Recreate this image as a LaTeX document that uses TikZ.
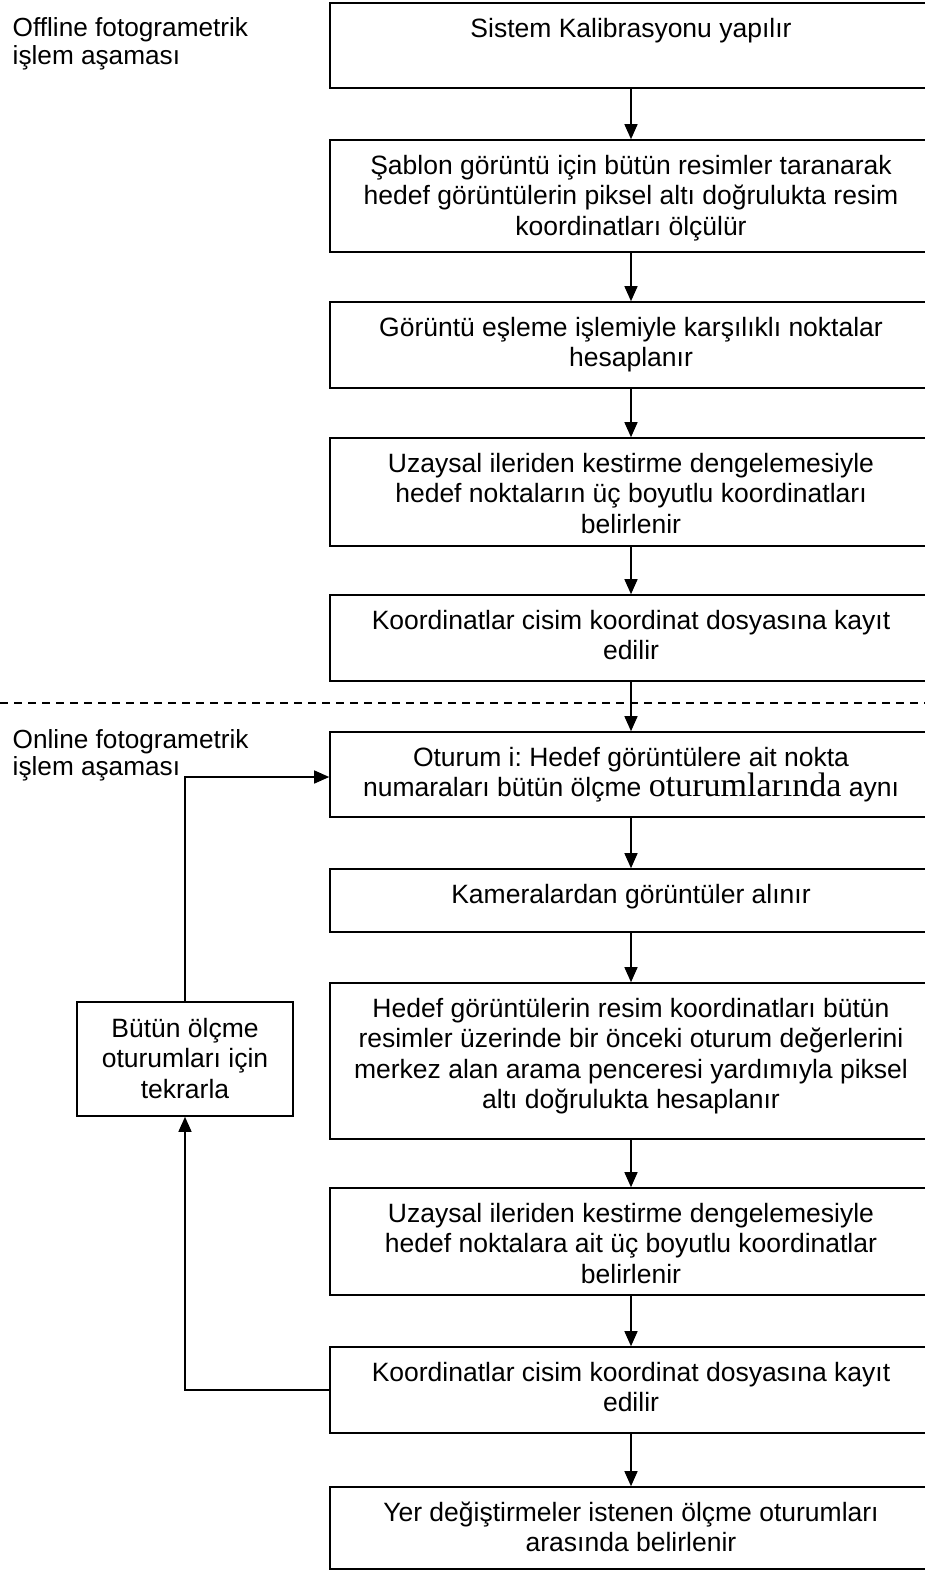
\documentclass[tikz,border=0pt]{standalone}
\usepackage{fontspec}
\setmainfont{Liberation Sans}
\newfontfamily\serfont{Liberation Serif}
\usetikzlibrary{arrows.meta}
\frenchspacing
\newcommand{\boxtext}[2][598pt]{\parbox[t]{#1}{\centering\fontsize{26.5}{30.5}\selectfont #2}}
\newcommand{\sidetext}[1]{\parbox[t]{310pt}{\raggedright\fontsize{26.2}{27.5}\selectfont #1}}
\begin{document}
\begin{tikzpicture}[x=1pt,y=-1pt,
  box/.style={draw, line width=1.6pt, rectangle, minimum width=602pt, inner sep=0pt},
  sbox/.style={draw, line width=1.6pt, rectangle, minimum width=216pt, minimum height=114pt, inner sep=0pt},
  txt/.style={anchor=base, inner sep=0pt},
  side/.style={anchor=base west, inner sep=0pt},
  arr/.style={line width=1.4pt, -{Triangle[length=15pt,width=13pt]}},
  sepline/.style={line width=1.3pt, dash pattern=on 8pt off 6pt}]
\useasboundingbox (0,0) rectangle (925,1571);
\clip (0,0) rectangle (925,1571);
% boxes
\node[box, minimum height=85pt]  (b1)  at (631,45.5) {};
\node[box, minimum height=112pt] (b2)  at (631,196) {};
\node[box, minimum height=86pt]  (b3)  at (631,345) {};
\node[box, minimum height=108pt] (b4)  at (631,492) {};
\node[box, minimum height=86pt]  (b5)  at (631,638) {};
\node[box, minimum height=85pt]  (b6)  at (631,774.5) {};
\node[box, minimum height=63pt]  (b7)  at (631,900.5) {};
\node[box, minimum height=156pt] (b8)  at (631,1061) {};
\node[box, minimum height=107pt] (b9)  at (631,1241.5) {};
\node[box, minimum height=86pt]  (b10) at (631,1390) {};
\node[box, minimum height=82pt]  (b11) at (631,1528) {};
\node[sbox] (bt) at (185,1059) {};
% texts
\node[txt] (t1)  at ([yshift=-35pt]b1.north)  {\boxtext{Sistem Kalibrasyonu yapılır}};
\node[txt] (t2)  at ([yshift=-35pt]b2.north)  {\boxtext{Şablon görüntü için bütün resimler taranarak\\hedef görüntülerin piksel altı doğrulukta resim\\koordinatları ölçülür}};
\node[txt] (t3)  at ([yshift=-35pt]b3.north)  {\boxtext{Görüntü eşleme işlemiyle karşılıklı noktalar\\hesaplanır}};
\node[txt] (t4)  at ([yshift=-35pt]b4.north)  {\boxtext{Uzaysal ileriden kestirme dengelemesiyle\\hedef noktaların üç boyutlu koordinatları\\belirlenir}};
\node[txt] (t5)  at ([yshift=-35pt]b5.north)  {\boxtext{Koordinatlar cisim koordinat dosyasına kayıt\\edilir}};
\node[txt] (t6)  at ([yshift=-35pt]b6.north)  {\boxtext{Oturum i: Hedef görüntülere ait nokta\\numaraları bütün ölçme {\serfont\fontsize{34}{30.5}\selectfont oturumlarında} aynı}};
\node[txt] (t7)  at ([yshift=-35pt]b7.north)  {\boxtext{Kameralardan görüntüler alınır}};
\node[txt] (t8)  at ([yshift=-35pt]b8.north)  {\boxtext{Hedef görüntülerin resim koordinatları bütün\\resimler üzerinde bir önceki oturum değerlerini\\merkez alan arama penceresi yardımıyla piksel\\altı doğrulukta hesaplanır}};
\node[txt] (t9)  at ([yshift=-35pt]b9.north)  {\boxtext{Uzaysal ileriden kestirme dengelemesiyle\\hedef noktalara ait üç boyutlu koordinatlar\\belirlenir}};
\node[txt] (t10) at ([yshift=-35pt]b10.north) {\boxtext{Koordinatlar cisim koordinat dosyasına kayıt\\edilir}};
\node[txt] (t11) at ([yshift=-35pt]b11.north) {\boxtext{Yer değiştirmeler istenen ölçme oturumları\\arasında belirlenir}};
\node[txt] (tt)  at ([yshift=-36pt]bt.north)  {\boxtext[212pt]{Bütün ölçme\\oturumları için\\tekrarla}};
% side labels
\node[side] (off) at (12.5,37)  {\sidetext{Offline fotogrametrik\\işlem aşaması}};
\node[side] (on)  at (12.5,748) {\sidetext{Online fotogrametrik\\işlem aşaması}};
% separator
\coordinate (sl) at (0,703);
\coordinate (sr) at (925,703);
\draw[sepline] (sl) -- (sr);
% connectors
\draw[arr] (b1.south) -- (b2.north);
\draw[arr] (b2.south) -- (b3.north);
\draw[arr] (b3.south) -- (b4.north);
\draw[arr] (b4.south) -- (b5.north);
\draw[arr] (b5.south) -- (b6.north);
\draw[arr] (b6.south) -- (b7.north);
\draw[arr] (b7.south) -- (b8.north);
\draw[arr] (b8.south) -- (b9.north);
\draw[arr] (b9.south) -- (b10.north);
\draw[arr] (b10.south) -- (b11.north);
\draw[arr] (b10.west) -| (bt.south);
\draw[arr] (bt.north) |- ([yshift=-2.5pt]b6.west);
\end{tikzpicture}
\end{document}
